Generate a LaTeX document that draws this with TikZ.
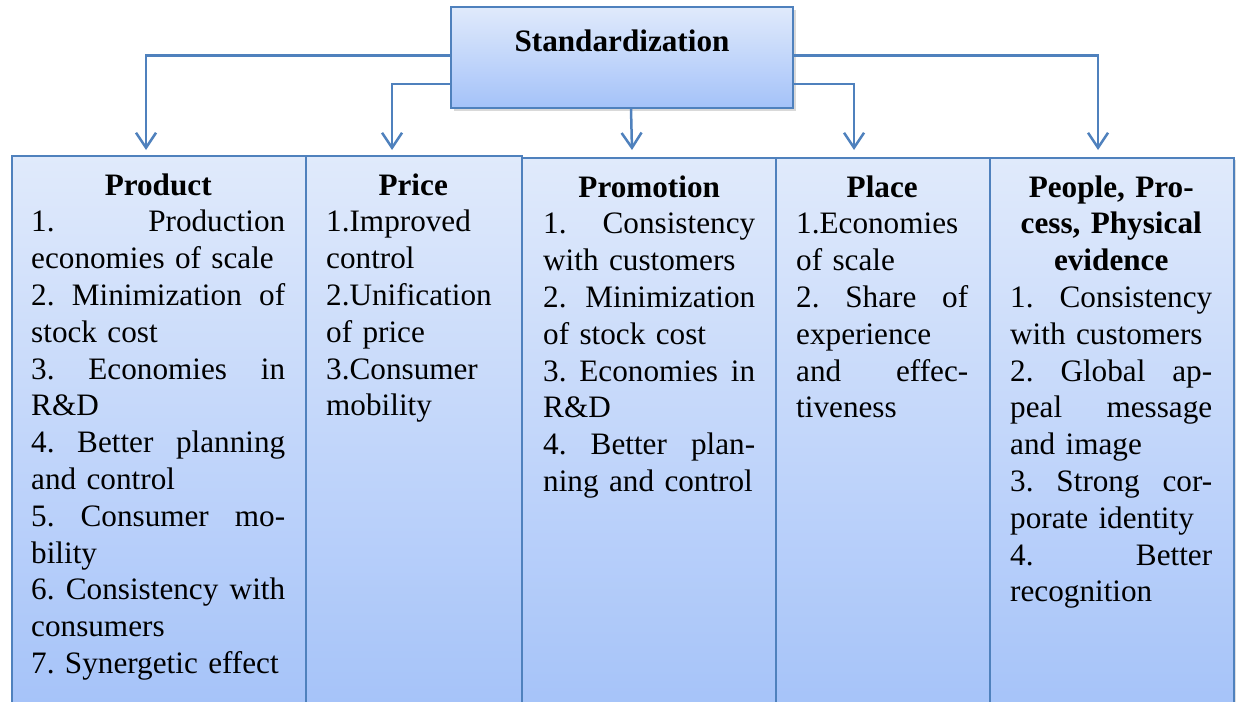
\documentclass[tikz,border=0pt]{standalone}
\usepackage{fontspec}
\setmainfont{Liberation Serif}
\usetikzlibrary{arrows.meta,shadows}
\definecolor{LinkBlue}{HTML}{4F81BD}
\definecolor{FillTop}{HTML}{E0EAFB}
\definecolor{FillBottom}{HTML}{A4C2F9}
% justified line and centred heading line inside a column
\newcommand{\jl}[1]{\leavevmode\hbox to\linewidth{\spaceskip=0.25em plus 1fil\relax #1}}
\newcommand{\hd}[1]{\makebox[\linewidth][c]{\bfseries #1}}

\begin{document}
\begin{tikzpicture}[x=1pt, y=-1pt,
  font=\fontsize{31.2pt}{36.8pt}\selectfont\frenchspacing,
  topbox/.style={draw=LinkBlue, line width=2pt, top color=FillTop, bottom color=FillBottom, minimum width=342pt, minimum height=101pt, text height=22pt, text depth=33pt, font=\fontsize{31.2pt}{36.8pt}\selectfont\bfseries, drop shadow={shadow xshift=3pt, shadow yshift=-3pt, opacity=0.3}},
  colbox/.style={draw=LinkBlue, line width=2pt, top color=FillTop, bottom color=FillBottom, anchor=north west, minimum height=565pt, inner sep=0pt, drop shadow={shadow xshift=2pt, shadow yshift=-2pt, opacity=0.25}},
  coltext/.style={anchor=base west, inner sep=0pt, align=left},
  link/.style={draw=LinkBlue, line width=2.5pt, -{Straight Barb[length=15pt,width=20pt]}}
]
\useasboundingbox (0,0) rectangle (1238,701);
\clip (0,0) rectangle (1238,701);

% the five columns
\node[colbox, minimum width=294pt] (product) at (11,155) {};
\node[colbox, minimum width=216pt] (price) at (305,155) {};
\node[colbox, minimum width=254pt] (promotion) at (521,157) {};
\node[colbox, minimum width=214pt] (place) at (775,157) {};
\node[colbox, minimum width=244pt] (people) at (989,157) {};

\node[coltext, text width=254pt] (productTxt) at (31,195) {%
  \hd{Product}\\
  \jl{1. Production}\\
  economies of scale\\
  \jl{2. Minimization of}\\
  stock cost\\
  \jl{3. Economies in}\\
  R\&D\\
  \jl{4. Better planning}\\
  and control\\
  \jl{5. Consumer mo-}\\
  bility\\
  \jl{6. Consistency with}\\
  consumers\\
  7. Synergetic effect};
\node[coltext, text width=174pt] (priceTxt) at (326,195) {%
  \hd{Price}\\
  1.Improved\\
  control\\
  2.Unification\\
  of price\\
  3.Consumer\\
  mobility};
\node[coltext, text width=212pt] (promotionTxt) at (543,197) {%
  \hd{Promotion}\\
  \jl{1. Consistency}\\
  with customers\\
  \jl{2. Minimization}\\
  of stock cost\\
  \jl{3. Economies in}\\
  R\&D\\
  \jl{4. Better plan-}\\
  ning and control};
\node[coltext, text width=172pt] (placeTxt) at (796,197) {%
  \hd{Place}\\
  1.Economies\\
  of scale\\
  \jl{2. Share of}\\
  experience\\
  \jl{and effec-}\\
  tiveness};
\node[coltext, text width=202pt] (peopleTxt) at (1010,197) {%
  \hd{People, Pro-}\\
  \hd{cess, Physical}\\
  \hd{evidence}\\
  \jl{1. Consistency}\\
  with customers\\
  \jl{2. Global ap-}\\
  \jl{peal message}\\
  and image\\
  \jl{3. Strong cor-}\\
  porate identity\\
  \jl{4. Better}\\
  recognition};

% top box and its arrows
\node[topbox] (std) at (622,57.5) {Standardization};

\draw[link] ([yshift=2pt]std.west) -| ([xshift=-13pt,yshift=5pt]product.north);
\draw[link] ([yshift=-26.5pt]std.west) -| ([xshift=-22pt,yshift=5pt]price.north);
\draw[link] ([xshift=9pt]std.south) -- ([xshift=-17pt,yshift=7pt]promotion.north);
\draw[link] ([yshift=-26.5pt]std.east) -| ([xshift=-29pt,yshift=7pt]place.north);
\draw[link] ([yshift=2pt]std.east) -| ([xshift=-14pt,yshift=7pt]people.north);
\end{tikzpicture}
\end{document}
